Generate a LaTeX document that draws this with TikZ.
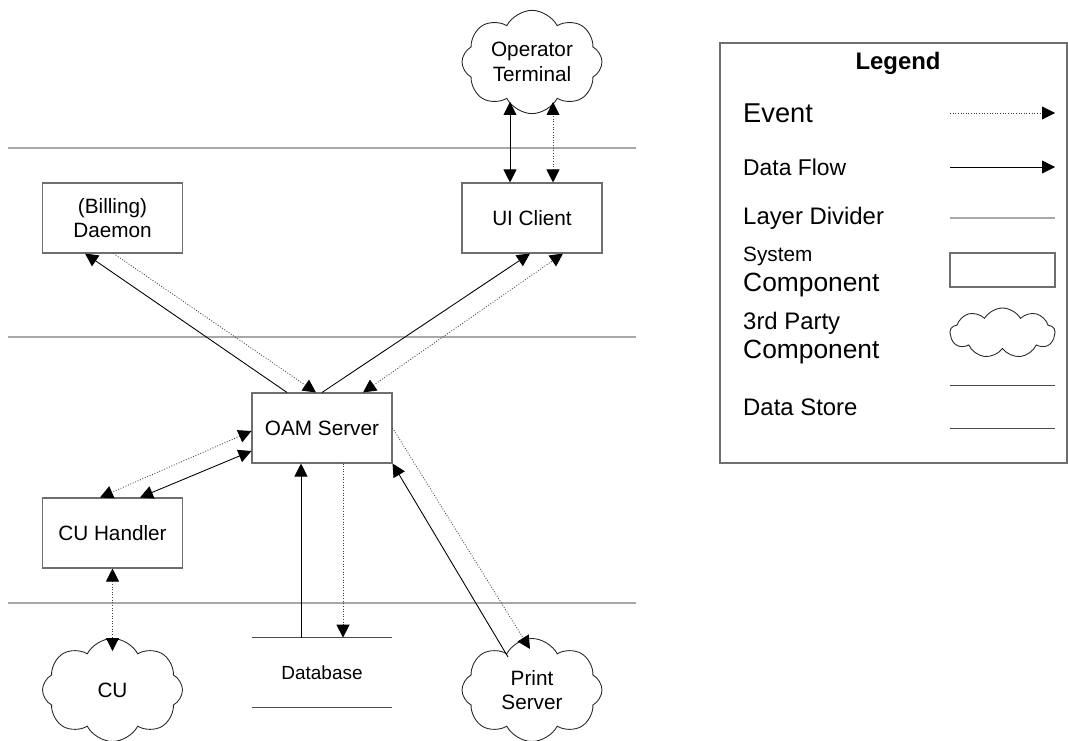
\documentclass[tikz,border=0pt]{standalone}
\usepackage{fontspec}
\setmainfont{Liberation Sans}
\usepackage{xcolor}
\usepackage{tikz}
\usetikzlibrary{shapes.symbols,arrows.meta}

\definecolor{boxgray}{HTML}{6E6E6E}
\definecolor{divgray}{HTML}{A8A8A8}

\begin{document}
\begin{tikzpicture}[
		>={Triangle[length=0.26cm,width=0.26cm,black]},
		comp/.style={draw=boxgray, line width=0.6pt, minimum width=2.8cm, minimum height=1.4cm, align=center, font=\fontsize{11.8}{14}\selectfont},
		party/.style={cloud, draw=black!85, line width=0.5pt, cloud puffs=8, cloud puff arc=125, aspect=1.4, minimum width=2.8cm, minimum height=2.06cm, inner sep=0pt, align=center, font=\fontsize{11.8}{14}\selectfont},
		store/.style={minimum width=2.8cm, minimum height=1.38cm, inner sep=0pt, font=\fontsize{10.8}{12}\selectfont},
		storeline/.style={draw=black!70, line width=0.6pt},
		flow/.style={draw=black, line width=0.5pt},
		event/.style={draw=black!75, densely dotted, line width=0.5pt},
		divider/.style={draw=divgray, line width=0.6pt},
		legtext/.style={anchor=west, font=\fontsize{13.6}{16}\selectfont}
	]
		\useasboundingbox (0,0) rectangle (21.36,14.8);
		
		% Draw layer dividers
		\draw[divider] (0.16,11.84) -- (12.72,11.84);
		\draw[divider] (0.16,8.06) -- (12.72,8.06);
		\draw[divider] (0.16,2.74) -- (12.72,2.74);
		
		% System components
		\node[comp] (billing) at (2.25,10.44) {(Billing)\\Daemon};
		\node[comp] (ui) at (10.64,10.44) {UI Client};
		\node[comp] (oam) at (6.44,6.24) {OAM Server};
		\node[comp] (cuh) at (2.25,4.14) {CU Handler};
		
		% 3rd party components
		\node[party] (op) at (10.64,13.56) {Operator\\Terminal};
		\node[party] (cu) at (2.25,1.0) {CU};
		\node[party] (ps) at (10.64,1.0) {Print\\Server};
		
		% Data store
		\node[store] (db) at (6.44,1.35) {Database};
		\draw[storeline] (db.north west) -- (db.north east);
		\draw[storeline] (db.south west) -- (db.south east);
		
		% Operator terminal and UI client
		\draw[flow,<->] ([xshift=-0.44cm]ui.north) -- ([xshift=-0.44cm,yshift=-0.8cm]op.center);
		\draw[event,<->] ([xshift=0.42cm]ui.north) -- ([xshift=0.42cm,yshift=-0.8cm]op.center);
		
		% OAM server and billing daemon
		\draw[flow,->] ([xshift=-0.7cm]oam.north) -- ([xshift=-0.55cm]billing.south);
		\draw[event,->] ([xshift=0.02cm]billing.south) -- ([xshift=-0.12cm]oam.north);
		
		% OAM server and UI client
		\draw[flow,->] (oam.north) -- ([xshift=-0.04cm]ui.south);
		\draw[event,<->] ([xshift=0.82cm]oam.north) -- ([xshift=0.62cm]ui.south);
		
		% OAM server and CU handler
		\draw[event,<->] ([yshift=-0.06cm]oam.west) -- ([xshift=-0.25cm]cuh.north);
		\draw[flow,<->] ([yshift=-0.46cm]oam.west) -- ([xshift=0.55cm]cuh.north);
		
		% CU handler and CU
		\draw[event,<->] (cuh.south) -- ([yshift=0.78cm]cu.center);
		
		% OAM server and database
		\draw[flow,->] ([xshift=-0.42cm]db.north) -- ([xshift=-0.42cm]oam.south);
		\draw[event,->] ([xshift=0.42cm]oam.south) -- ([xshift=0.42cm]db.north);
		
		% OAM server and print server
		\draw[event,->] (oam.east) -- ([xshift=-0.04cm,yshift=0.82cm]ps.center);
		\draw[flow,->] ([xshift=-0.48cm,yshift=0.66cm]ps.center) -- (oam.south east);
		
		% Legend frame and title
		\draw[boxgray, line width=0.6pt] (14.4,5.54) rectangle (21.34,13.94);
		\node[font=\bfseries\fontsize{13.6}{16}\selectfont] (legtitle) at (17.96,13.54) {Legend};
		
		% Legend entries
		\node[legtext, font=\fontsize{15.5}{18}\selectfont] (evtxt) at (14.74,12.54) {Event};
		\coordinate (evA) at (19.0,12.54);
		\coordinate (evB) at (21.1,12.54);
		\draw[event,->] (evA) -- (evB);
		
		\node[legtext, font=\fontsize{13}{16}\selectfont] (dftxt) at (14.74,11.46) {Data Flow};
		\coordinate (dfA) at (19.0,11.46);
		\coordinate (dfB) at (21.1,11.46);
		\draw[flow,->] (dfA) -- (dfB);
		
		\node[legtext] (ldtxt) at (14.74,10.44) {Layer Divider};
		\coordinate (ldA) at (19.0,10.44);
		\coordinate (ldB) at (21.1,10.44);
		\draw[divider] (ldA) -- (ldB);
		
		\node[legtext, font=\fontsize{11.8}{14}\selectfont] (sctxt) at (14.74,9.68) {System};
		\node[legtext, font=\fontsize{15}{18}\selectfont] (sctxtb) at (14.74,9.1) {Component};
		\node[draw=boxgray, line width=0.6pt, minimum width=2.1cm, minimum height=0.68cm] (legbox) at (20.05,9.4) {};
		
		\node[legtext] (tptxt) at (14.74,8.34) {3rd Party};
		\node[legtext, font=\fontsize{15}{18}\selectfont] (tptxtb) at (14.74,7.76) {Component};
		\node[party, cloud puffs=9, cloud puff arc=120, aspect=2.8, minimum width=2.1cm, minimum height=1.0cm] (legcloud) at (20.05,8.14) {};
		
		\node[legtext] (dstxt) at (14.74,6.66) {Data Store};
		\node[store, minimum width=2.1cm, minimum height=0.84cm] (legstore) at (20.05,6.66) {};
		\draw[storeline] (legstore.north west) -- (legstore.north east);
		\draw[storeline] (legstore.south west) -- (legstore.south east);
	\end{tikzpicture}
\end{document}
